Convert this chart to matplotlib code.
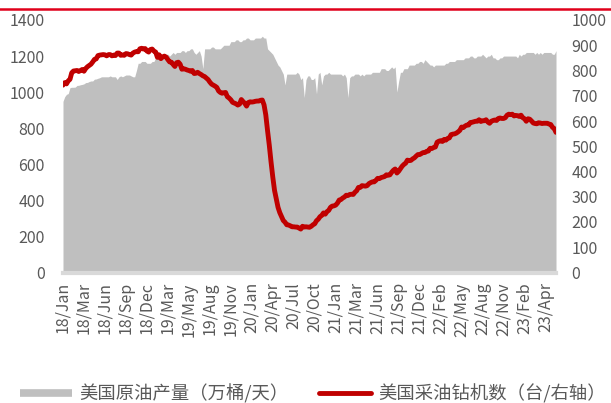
import numpy as np
import matplotlib
matplotlib.use('Agg')
import matplotlib.pyplot as plt
from matplotlib.lines import Line2D

plt.rcParams['font.family'] = ['Noto Sans CJK SC', 'DejaVu Sans']

# weekly data, 2018-01-05 .. 2023-06-02
tick_labels = ['18/Jan', '18/Mar', '18/Jun', '18/Sep', '18/Dec', '19/Mar', '19/May', '19/Aug',
               '19/Nov', '20/Jan', '20/Apr', '20/Jul', '20/Oct', '21/Jan', '21/Mar', '21/Jun',
               '21/Sep', '21/Dec', '22/Feb', '22/May', '22/Aug', '22/Nov', '23/Feb', '23/Apr']

# US crude production (万桶/天)
prod_2018 = [949, 975, 988, 992, 1025, 1027, 1027, 1028, 1037, 1038,
             1041, 1043, 1046, 1053, 1054, 1059, 1062, 1062, 1072, 1073,
             1077, 1080, 1085, 1085, 1085, 1085, 1085, 1090, 1085, 1085,
             1085, 1070, 1085, 1090, 1085, 1090, 1095, 1095, 1095, 1090,
             1085, 1085, 1120, 1160, 1160, 1170, 1170, 1170, 1160, 1160,
             1160, 1170]
prod_2019 = [1170, 1190, 1190, 1190, 1190, 1190, 1200, 1210, 1210, 1200,
             1210, 1220, 1210, 1220, 1220, 1220, 1230, 1230, 1220, 1230,
             1230, 1240, 1240, 1220, 1210, 1220, 1230, 1200, 1130, 1240,
             1240, 1240, 1240, 1250, 1250, 1240, 1240, 1240, 1240, 1250,
             1260, 1260, 1260, 1260, 1280, 1280, 1280, 1290, 1290, 1280,
             1280, 1290]
prod_2020 = [1290, 1300, 1300, 1290, 1290, 1290, 1300, 1300, 1300, 1300,
             1310, 1300, 1300, 1240, 1230, 1220, 1210, 1190, 1170, 1150,
             1140, 1120, 1100, 1040, 1100, 1100, 1100, 1100, 1100, 1100,
             1110, 1100, 1070, 1080, 970, 1070, 1090, 1090, 1070, 1070,
             1080, 990, 1100, 1110, 1040, 1090, 1100, 1100, 1110, 1100,
             1100, 1100, 1100]
prod_2021 = [1100, 1100, 1100, 1090, 1100, 1080, 970, 1080, 1090, 1090,
             1100, 1100, 1100, 1090, 1100, 1090, 1100, 1100, 1100, 1100,
             1110, 1110, 1110, 1110, 1110, 1130, 1130, 1130, 1120, 1120,
             1130, 1140, 1130, 1140, 1000, 1060, 1110, 1110, 1130, 1130,
             1130, 1150, 1150, 1150, 1150, 1160, 1160, 1170, 1170, 1160,
             1180, 1170]
prod_2022 = [1160, 1150, 1150, 1140, 1150, 1150, 1150, 1150, 1150, 1150,
             1160, 1160, 1170, 1170, 1170, 1170, 1180, 1180, 1180, 1180,
             1180, 1190, 1190, 1190, 1200, 1200, 1190, 1190, 1200, 1200,
             1200, 1210, 1200, 1190, 1200, 1200, 1210, 1190, 1190, 1180,
             1180, 1190, 1190, 1200, 1200, 1200, 1200, 1200, 1200, 1200,
             1200, 1190]
prod_2023 = [1210, 1200, 1210, 1210, 1220, 1220, 1220, 1220, 1220, 1210,
             1220, 1210, 1220, 1210, 1220, 1220, 1220, 1220, 1220, 1210,
             1210, 1230]

# US oil rig count (台)
rigs_2018 = [742, 752, 747, 759, 765, 791, 798, 799, 800, 796,
             800, 804, 797, 808, 815, 820, 825, 834, 844, 846,
             859, 861, 862, 863, 862, 858, 863, 863, 858, 861,
             859, 869, 869, 860, 862, 860, 867, 866, 863, 861,
             869, 873, 875, 874, 886, 888, 885, 887, 877, 873,
             883, 885]
rigs_2019 = [877, 873, 852, 862, 847, 854, 857, 853, 843, 834,
             833, 824, 816, 831, 833, 825, 805, 807, 805, 802,
             800, 797, 800, 788, 789, 793, 788, 784, 779, 776,
             770, 764, 754, 746, 742, 738, 733, 719, 713, 710,
             712, 713, 696, 691, 684, 674, 671, 668, 663, 667,
             685, 677]
rigs_2020 = [670, 659, 673, 676, 675, 676, 678, 679, 679, 682,
             683, 664, 624, 562, 504, 438, 378, 325, 292, 258,
             237, 222, 206, 199, 189, 188, 185, 181, 181, 180,
             180, 176, 172, 183, 180, 181, 180, 179, 183, 189,
             193, 205, 211, 221, 226, 236, 231, 241, 246, 258,
             263, 264, 267]
rigs_2021 = [275, 287, 289, 295, 299, 306, 305, 309, 310, 309,
             318, 324, 337, 337, 344, 343, 342, 344, 352, 356,
             359, 359, 365, 373, 372, 376, 378, 380, 387, 385,
             387, 397, 405, 410, 394, 401, 411, 421, 428, 433,
             445, 443, 444, 450, 454, 461, 467, 467, 471, 475,
             475, 480]
rigs_2022 = [481, 492, 491, 495, 497, 516, 520, 522, 519, 527,
             524, 531, 533, 546, 548, 549, 552, 557, 563, 576,
             574, 580, 584, 584, 594, 595, 597, 599, 599, 605,
             598, 601, 601, 605, 596, 591, 599, 602, 604, 602,
             610, 612, 610, 610, 613, 623, 627, 625, 627, 620,
             622, 621]
rigs_2023 = [618, 623, 613, 609, 599, 609, 607, 600, 592, 590,
             589, 593, 592, 590, 591, 591, 591, 588, 586, 575,
             570, 555]

production = prod_2018 + prod_2019 + prod_2020 + prod_2021 + prod_2022 + prod_2023
rigs = rigs_2018 + rigs_2019 + rigs_2020 + rigs_2021 + rigs_2022 + rigs_2023
x = np.arange(len(production))

W, H = 611, 403
fig = plt.figure(figsize=(W / 100, H / 100), dpi=100)
ax = fig.add_axes([63 / W, 1 - 272.5 / H, (556 - 63) / W, (272.5 - 20) / H])

ax.fill_between(x, production, 0, color='#bfbfbf', lw=0)
ax.set_xlim(0, len(x) - 1)
ax.set_ylim(0, 1400)
ax.set_yticks(range(0, 1401, 200))
ax.set_xticks(x[::12])
ax.set_xticklabels(tick_labels, rotation=90, va='top', ha='center')

ax2 = ax.twinx()
ax2.plot(x, rigs, color='#c00000', lw=3.5, solid_capstyle='round', solid_joinstyle='round')
ax2.set_ylim(0, 1000)
ax2.set_yticks(range(0, 1001, 100))

for a in (ax, ax2):
    for s in a.spines.values():
        s.set_visible(False)
    a.tick_params(length=0, colors='#595959', labelsize=11.5)
ax.tick_params(axis='y', pad=13)
ax2.tick_params(axis='y', pad=11)
ax.tick_params(axis='x', pad=7)
ax.axhline(0, color='#d9d9d9', lw=3, clip_on=False, zorder=3)

# red rule at the top of the page
fig.add_artist(Line2D([0, 1], [1 - 9 / H] * 2, transform=fig.transFigure,
                      color='#e0001a', lw=1.8))

handles = [Line2D([], [], color='#bfbfbf', lw=5.5, solid_capstyle='butt'),
           Line2D([], [], color='#c00000', lw=3.5, solid_capstyle='round')]
labels = ['美国原油产量（万桶/天）', '美国采油钻机数（台/右轴）']
fig.legend(handles, labels, loc='center', bbox_to_anchor=(313 / W, 1 - 394 / H),
           ncol=2, frameon=False, fontsize=13.2, handlelength=2.8,
           handletextpad=0.4, columnspacing=1.7, labelcolor='#595959')

fig.savefig('out.png', dpi=100)
